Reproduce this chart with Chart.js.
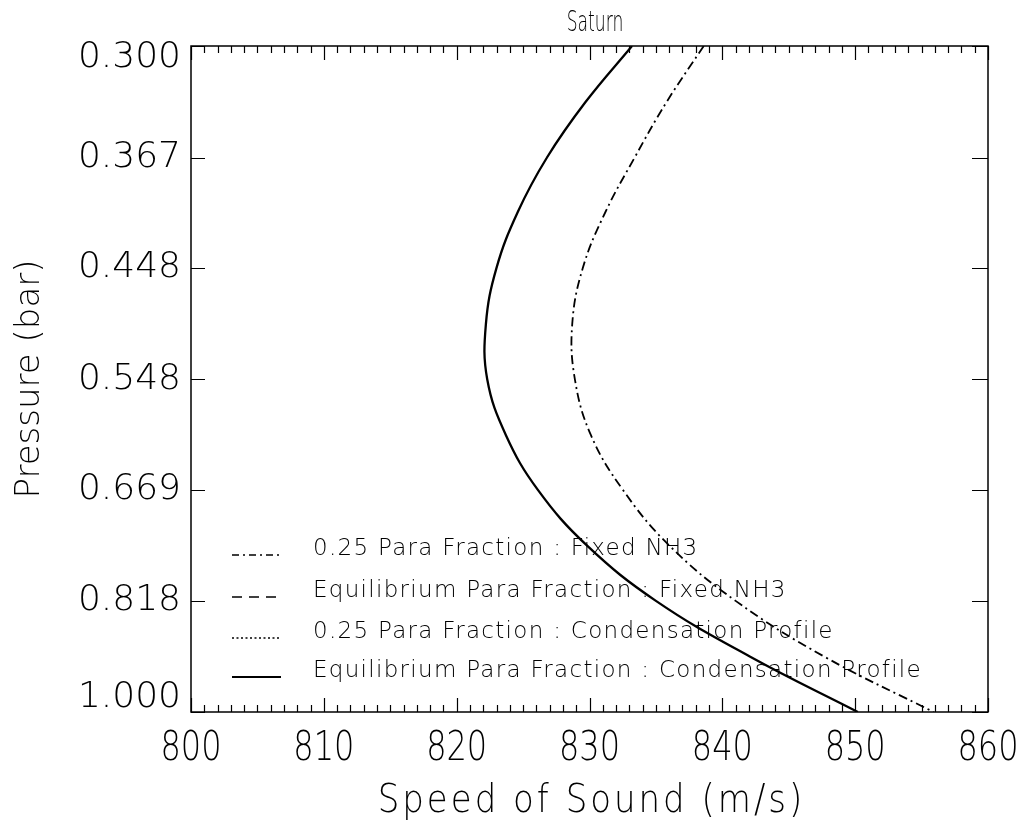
<!DOCTYPE html>
<html>
<head>
<meta charset="utf-8">
<script src="https://cdn.jsdelivr.net/npm/chart.js@4.4.0/dist/chart.umd.min.js"></script>
<style>
  html, body { margin: 0; padding: 0; background: #fff; }
</style>
</head>
<body>
<canvas id="grafico" width="1027" height="825"></canvas>
<script>
// pressure levels (bar), top to bottom
var pressao = [0.300, 0.332, 0.367, 0.405, 0.448, 0.496, 0.548, 0.606, 0.669, 0.740, 0.818, 0.905, 1.000];
// Equilibrium para fraction : condensation profile (m/s)
var somEquilibrio = [833.2, 829.7, 826.8, 824.6, 823.0, 822.2, 822.3, 823.7, 826.1, 829.8, 835.0, 842.1, 850.2];
// 0.25 para fraction : fixed NH3 (m/s)
var somPara025 = [838.6, 835.8, 833.4, 831.2, 829.5, 828.7, 828.9, 830.1, 832.5, 836.0, 841.0, 847.7, 855.9];
var yTicks = [0.300, 0.367, 0.448, 0.548, 0.669, 0.818, 1.000];
var xTicks = [800, 810, 820, 830, 840, 850, 860];
var xMin = 800, xMax = 860;
var legenda = ['0.25 Para Fraction : Fixed NH3',
               'Equilibrium Para Fraction : Fixed NH3',
               '0.25 Para Fraction : Condensation Profile',
               'Equilibrium Para Fraction : Condensation Profile'];
var estilos = [[7, 4, 2, 4], [10, 7], [2, 2.5], []];

var fonte = '"DejaVu Sans", sans-serif';

function pontos(xs){
    var out = [];
    for (var i in pressao) out.push({x: xs[i], y: pressao[i]});
    return out;
}

// text with its own horizontal / vertical stretch
function texto(c, s, x, y, ex, ey){
    c.save();
    c.translate(x, y);
    c.scale(ex, ey);
    c.fillText(s, 0, 0);
    c.restore();
}

var moldura = {
    id: 'moldura',
    afterDraw: function(chart){
        var c = chart.ctx, a = chart.chartArea;
        var sx = chart.scales.x, sy = chart.scales.y;
        c.save();
        c.strokeStyle = '#000';
        c.lineWidth = 1.5;
        c.strokeRect(a.left, a.top, a.right - a.left, a.bottom - a.top);
        c.lineWidth = 1.2;
        c.beginPath();
        for (var v = xMin; v <= xMax; v++) {
            var px = Math.round(sx.getPixelForValue(v)) + 0.5;
            var len = (v % 10 == 0) ? 14 : 7;
            c.moveTo(px, a.top); c.lineTo(px, a.top + len);
            c.moveTo(px, a.bottom); c.lineTo(px, a.bottom - len);
        }
        for (var i in yTicks) {
            var py = Math.round(sy.getPixelForValue(yTicks[i])) + 0.5;
            c.moveTo(a.left, py); c.lineTo(a.left + 14, py);
            c.moveTo(a.right, py); c.lineTo(a.right - 16, py);
        }
        c.stroke();

        c.fillStyle = '#000';
        c.textBaseline = 'middle';

        // y tick labels
        c.font = '200 36px ' + fonte;
        c.textAlign = 'right';
        for (var i in yTicks) {
            var py = sy.getPixelForValue(yTicks[i]);
            py = Math.min(Math.max(py, a.top + 12), a.bottom - 14);
            c.fillText(yTicks[i].toFixed(3), a.left - 10, py);
        }

        // x tick labels
        c.font = '200 32px ' + fonte;
        c.textAlign = 'center';
        for (var i in xTicks) {
            texto(c, String(xTicks[i]), sx.getPixelForValue(xTicks[i]), 749, 1, 1.3);
        }

        // x axis title
        c.font = '200 34px ' + fonte;
        c.letterSpacing = '3px';
        texto(c, 'Speed of Sound (m/s)', (a.left + a.right) / 2 + 2, 802, 1, 1.15);

        // title
        c.letterSpacing = '0px';
        c.font = '200 26px ' + fonte;
        texto(c, 'Saturn', 595, 23, 0.66, 1.12);

        // legend inside the plot
        var linhas = [549, 591, 632, 671];
        c.textAlign = 'left';
        c.font = '200 23px ' + fonte;
        for (var i in legenda) {
            c.setLineDash(estilos[i]);
            c.lineWidth = (i == 3) ? 2.2 : 1.5;
            c.beginPath();
            c.moveTo(232, linhas[i] + 6);
            c.lineTo(281, linhas[i] + 6);
            c.stroke();
            c.setLineDash([]);
            c.letterSpacing = '1.3px';
            c.fillText(legenda[i], 313, linhas[i]);
            c.letterSpacing = '0px';
        }
        c.restore();
    }
};

var grafico = new Chart(document.getElementById('grafico'), {
    type: 'scatter',
    data: {
        datasets: [
            {
                label: legenda[3],
                data: pontos(somEquilibrio),
                showLine: true,
                borderColor: '#000',
                borderWidth: 2.3,
                pointRadius: 0,
                tension: 0.4
            },
            {
                label: legenda[0],
                data: pontos(somPara025),
                showLine: true,
                borderColor: '#000',
                borderWidth: 1.8,
                borderDash: [9, 4, 2, 4],
                pointRadius: 0,
                tension: 0.4
            }
        ]
    },
    options: {
        responsive: false,
        animation: false,
        devicePixelRatio: 1,
        layout: { padding: { top: 46, right: 39, left: 0, bottom: 0 } },
        plugins: { legend: { display: false }, tooltip: { enabled: false } },
        scales: {
            x: {
                type: 'linear',
                min: xMin,
                max: xMax,
                grid: { display: false },
                border: { display: false },
                ticks: { display: false },
                afterFit: function(s){ s.height = 113; }
            },
            y: {
                type: 'logarithmic',
                reverse: true,
                min: 0.3,
                max: 1.0,
                grid: { display: false },
                border: { display: false },
                afterBuildTicks: function(s){ s.ticks = yTicks.map(function(v){ return {value: v}; }); },
                ticks: { display: false },
                title: { display: true, text: 'Pressure (bar)', color: '#000', padding: { top: 10, bottom: 0 },
                         font: { family: fonte, size: 34, weight: 200 } },
                afterFit: function(s){ s.width = 191; }
            }
        }
    },
    plugins: [moldura]
});
</script>
</body>
</html>
